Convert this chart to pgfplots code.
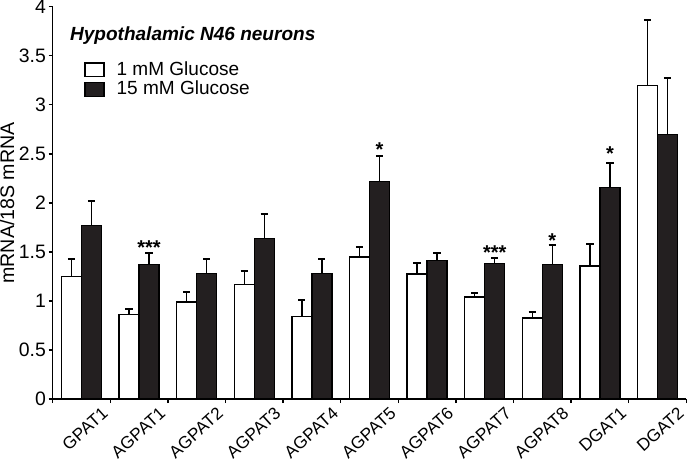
\documentclass[border=0pt]{standalone}
\usepackage{fontspec}
\setmainfont{Liberation Sans}
\usepackage{pgfplots}
\pgfplotsset{compat=1.18}
\definecolor{barblack}{HTML}{231F20}
\begin{document}
\begin{tikzpicture}
\begin{axis}[
  scale only axis, width=316.5pt, height=196pt,
  xmin=0, xmax=11, ymin=0, ymax=4,
  axis lines*=left, axis line style={line width=0.7pt, -},
  tick align=outside, major tick length=2pt,
  tick style={line width=0.7pt, black},
  /pgf/number format/assume math mode=true,
  ytick={0,0.5,...,4},
  yticklabel style={font=\fontsize{9.7}{11}\selectfont, inner sep=0pt, xshift=-1.2pt},
  xtick={0,...,11}, xticklabels={},
  extra x ticks={0.5,1.5,...,10.5},
  extra x tick labels={GPAT1,AGPAT1,AGPAT2,AGPAT3,AGPAT4,AGPAT5,AGPAT6,AGPAT7,AGPAT8,DGAT1,DGAT2},
  extra x tick style={major tick length=0pt,
    xticklabel style={font=\fontsize{8.6}{9}\selectfont, rotate=42, anchor=north east, xshift=5pt, yshift=-9pt, inner sep=0pt}},
  ylabel={mRNA/18S mRNA},
  ylabel style={font=\fontsize{9.8}{10}\selectfont, yshift=2pt, inner sep=0pt},
  legend style={at={(0.046,0.877)}, anchor=north west, draw=none, fill=none,
    font=\fontsize{9.5}{10.5}\selectfont, row sep=-2.5pt, inner sep=1pt},
  legend cell align=left,
  legend image code/.code={\draw[#1, line width=0.7pt] (0pt,-3.4pt) rectangle (9.5pt,3.4pt); \path (13.5pt,0pt);},
  clip=false,
]
\addplot[ybar, bar width=10pt, bar shift=0pt, draw=black, fill=white, line width=0.7pt,
  error bars/.cd, y dir=plus, y explicit,
  error bar style={line width=0.7pt, black},
  error mark options={rotate=90, mark size=1.8pt, line width=1pt, black}]
  coordinates {
  (0.3262,1.25) +- (0,0.18)
  (1.3262,0.86) +- (0,0.055)
  (2.3262,0.99) +- (0,0.105)
  (3.3262,1.17) +- (0,0.14)
  (4.3262,0.84) +- (0,0.17)
  (5.3262,1.45) +- (0,0.10)
  (6.3262,1.275) +- (0,0.115)
  (7.3262,1.04) +- (0,0.045)
  (8.3262,0.826) +- (0,0.062)
  (9.3262,1.357) +- (0,0.223)
  (10.3262,3.197) +- (0,0.67)
  };
\addlegendentry{1 mM Glucose}
\addplot[ybar, bar width=10pt, bar shift=0pt, draw=black, fill=barblack, line width=0.7pt,
  error bars/.cd, y dir=plus, y explicit,
  error bar style={line width=0.7pt, black},
  error mark options={rotate=90, mark size=1.8pt, line width=1pt, black}]
  coordinates {
  (0.6738,1.77) +- (0,0.25)
  (1.6738,1.374) +- (0,0.116)
  (2.6738,1.28) +- (0,0.145)
  (3.6738,1.64) +- (0,0.25)
  (4.6738,1.28) +- (0,0.145)
  (5.6738,2.22) +- (0,0.26)
  (6.6738,1.41) +- (0,0.077)
  (7.6738,1.38) +- (0,0.06)
  (8.6738,1.37) +- (0,0.20)
  (9.6738,2.156) +- (0,0.254)
  (10.6738,2.70) +- (0,0.57)
  };
\addlegendentry{15 mM Glucose}
\addplot[draw=none, mark=none, forget plot, nodes near coords, point meta=explicit symbolic,
  nodes near coords style={anchor=north, inner sep=0pt, font=\fontsize{10}{11}\selectfont\bfseries}]
  coordinates {
  (1.674,1.622) [***]
  (5.674,2.616) [*]
  (7.674,1.571) [***]
  (8.674,1.687) [*]
  (9.674,2.575) [*]
  };
\node[anchor=base west, inner sep=0pt, font=\fontsize{9.5}{11}\selectfont\bfseries\itshape]
  at (rel axis cs:0.027,0.913) {Hypothalamic N46 neurons};
\end{axis}
\end{tikzpicture}
\end{document}
